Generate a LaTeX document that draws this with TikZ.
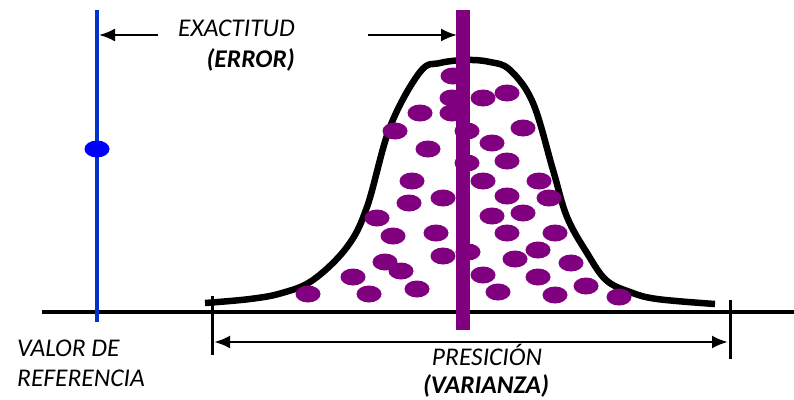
\documentclass[tikz,border=0pt]{standalone}
\usepackage{fontspec}
\setmainfont{Carlito}
\usetikzlibrary{arrows.meta}
\definecolor{refblue}{RGB}{0,51,204}
\definecolor{dotblue}{RGB}{0,0,255}
\definecolor{purp}{RGB}{128,0,128}
\tikzset{
  lbl/.style={font=\fontsize{25.5}{30}\selectfont\itshape, inner sep=0pt, text=black},
  lblb/.style={font=\fontsize{25.5}{30}\selectfont\itshape\bfseries, inner sep=0pt, text=black},
  dot/.style={fill=purp, draw=none},
  arr/.style={line width=2.2pt, -{Latex[length=16pt,width=13pt]}},
  darr/.style={line width=2.8pt, {Latex[length=16pt,width=13pt]}-{Latex[length=16pt,width=13pt]}},
}
\begin{document}
\begin{tikzpicture}[x=1pt,y=-1pt]
\useasboundingbox (0,0) rectangle (794,399);
% baseline
\draw[line width=4.5pt] (42,312) -- (794,312);
% blue reference line
\coordinate (bt) at (97,10);
\coordinate (bb) at (97,322);
\draw[refblue, line width=4pt] (bt) -- (bb);
\fill[dotblue] (97,149) ellipse [x radius=12.5, y radius=8.5];
% bell curve
\draw[line width=6.5pt, line join=round] plot[smooth, tension=0.6] coordinates {
 (205,303) (250,299) (282,293) (313,280) (347,247) (367,207) (390,127)
 (420,72) (440,63) (467,60) (490,62) (510,70) (533,103) (553,170)
 (567,217) (587,253) (606,280) (630,292) (657,299) (715,304)};
% dots
\foreach \x/\y in {453/76,452/98,483/98,507/93,420/113,452/113,395/131,467/131,523/128,
 428/149,492/143,467/163,507/161,412/181,483/181,539/181,443/198,409/203,507/196,549/198,
 377/218,492/216,523/213,393/236,436/233,507/233,555/233,468/252,443/256,385/262,401/271,
 538/250,515/259,571/263,353/277,483/275,538/277,308/294,369/294,417/289,498/292,555/295,
 586/286,619/297}
  \fill[dot] (\x,\y) ellipse [x radius=12.5, y radius=8.5];
% purple mean bar
\coordinate (pt) at (463,10);
\coordinate (pb) at (463,330);
\draw[purp, line width=14pt] (pt) -- (pb);
% top labels and arrows
\node[lbl, anchor=east] (exa) at (295,28) {EXACTITUD};
\node[lblb, anchor=east] (err) at (295,60) {(ERROR)};
\coordinate (la) at (99,35);
\coordinate (ra) at (457,35);
\coordinate (ls) at (158,35);
\coordinate (rs) at (368,35);
\draw[arr] (ls) -- (la);
\draw[arr] (rs) -- (ra);
% precision range
\coordinate (t1a) at (212,296);
\coordinate (t1b) at (212,355);
\coordinate (t2a) at (730,300);
\coordinate (t2b) at (730,359);
\draw[line width=3pt] (t1a) -- (t1b);
\draw[line width=3pt] (t2a) -- (t2b);
\coordinate (d1) at (214,342);
\coordinate (d2) at (728,342);
\draw[darr] (d1) -- (d2);
% bottom labels
\node[lbl, anchor=west] (val) at (17,348) {VALOR DE};
\node[lbl, anchor=west] (ref) at (17,378) {REFERENCIA};
\node[lbl] (pre) at (487,355) {PRESICIÓN};
\node[lblb] (var) at (486,386) {(VARIANZA)};
\end{tikzpicture}
\end{document}
